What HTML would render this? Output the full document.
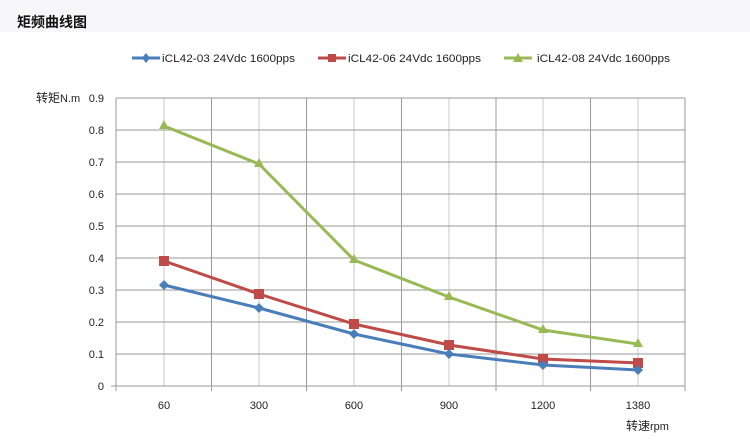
<!DOCTYPE html>
<html><head><meta charset="utf-8"><style>
body{margin:0;background:#fff;}
svg{display:block;font-family:"Liberation Sans","Noto Sans CJK SC",sans-serif;}
</style></head><body>
<svg width="750" height="445" viewBox="0 0 750 445">
<rect x="0" y="0" width="750" height="32" fill="#f7f7f9"/>
<text x="17" y="27" font-size="14" font-weight="bold" fill="#111">矩频曲线图</text>
<!-- legend -->
<g font-size="11" fill="#222">
<line x1="132" y1="58" x2="160" y2="58" stroke="#4a7ebb" stroke-width="3"/><path d="M146 53 L150 58 L146 63 L142 58Z" fill="#4a7ebb"/>
<text x="162" y="62" textLength="133" lengthAdjust="spacingAndGlyphs">iCL42-03 24Vdc 1600pps</text>
<line x1="318" y1="58" x2="346" y2="58" stroke="#be4b48" stroke-width="3"/><rect x="328" y="54" width="8" height="8" fill="#be4b48"/>
<text x="348" y="62" textLength="133" lengthAdjust="spacingAndGlyphs">iCL42-06 24Vdc 1600pps</text>
<line x1="504" y1="58" x2="532" y2="58" stroke="#98b954" stroke-width="3"/><path d="M518 53 L523 62 L513 62Z" fill="#98b954"/>
<text x="537" y="62" textLength="133" lengthAdjust="spacingAndGlyphs">iCL42-08 24Vdc 1600pps</text>
</g>
<!-- grid -->
<g stroke="#c8c8c8" stroke-width="1">
<line x1="164" y1="98" x2="164" y2="386"/><line x1="259" y1="98" x2="259" y2="386"/><line x1="354" y1="98" x2="354" y2="386"/><line x1="449" y1="98" x2="449" y2="386"/><line x1="543" y1="98" x2="543" y2="386"/><line x1="638" y1="98" x2="638" y2="386"/>
</g>
<g stroke="#9a9a9a" stroke-width="1">
<line x1="116" y1="98" x2="685" y2="98"/><line x1="116" y1="130" x2="685" y2="130"/><line x1="116" y1="162" x2="685" y2="162"/><line x1="116" y1="194" x2="685" y2="194"/><line x1="116" y1="226" x2="685" y2="226"/><line x1="116" y1="258" x2="685" y2="258"/><line x1="116" y1="290" x2="685" y2="290"/><line x1="116" y1="322" x2="685" y2="322"/><line x1="116" y1="354" x2="685" y2="354"/>
<line x1="211.5" y1="98" x2="211.5" y2="391"/><line x1="306.5" y1="98" x2="306.5" y2="391"/><line x1="401.5" y1="98" x2="401.5" y2="391"/><line x1="496" y1="98" x2="496" y2="391"/><line x1="590.5" y1="98" x2="590.5" y2="391"/><line x1="685" y1="98" x2="685" y2="391"/>
<line x1="116" y1="98" x2="116" y2="391"/><line x1="111" y1="386" x2="685" y2="386"/>
</g>
<g font-size="11" fill="#222" text-anchor="end">
<text x="104" y="102">0.9</text><text x="104" y="134">0.8</text><text x="104" y="166">0.7</text><text x="104" y="198">0.6</text><text x="104" y="230">0.5</text><text x="104" y="262">0.4</text><text x="104" y="294">0.3</text><text x="104" y="326">0.2</text><text x="104" y="358">0.1</text><text x="104" y="390">0</text>
</g>
<text x="36" y="102" font-size="12" fill="#222">转矩<tspan font-size="11">N.m</tspan></text>
<g font-size="11" fill="#222" text-anchor="middle">
<text x="164" y="409">60</text><text x="259" y="409">300</text><text x="354" y="409">600</text><text x="449" y="409">900</text><text x="543" y="409">1200</text><text x="638" y="409">1380</text>
</g>
<text x="626" y="430" font-size="12" fill="#222">转速<tspan font-size="11">rpm</tspan></text>
<!-- series -->
<polyline points="164,126 259,164 354,260 449,297 543,330 638,344" fill="none" stroke="#98b954" stroke-width="3"/>
<g fill="#98b954"><path d="M164,120 l5,9 h-10z"/><path d="M259,158 l5,9 h-10z"/><path d="M354,254 l5,9 h-10z"/><path d="M449,291 l5,9 h-10z"/><path d="M543,324 l5,9 h-10z"/><path d="M638,338 l5,9 h-10z"/></g>
<polyline points="164,261 259,294 354,324 449,345 543,359 638,363" fill="none" stroke="#be4b48" stroke-width="3"/>
<g fill="#be4b48"><rect x="159" y="256" width="10" height="10"/><rect x="254" y="289" width="10" height="10"/><rect x="349" y="319" width="10" height="10"/><rect x="444" y="340" width="10" height="10"/><rect x="538" y="354" width="10" height="10"/><rect x="633" y="358" width="10" height="10"/></g>
<polyline points="164,285 259,308 354,334 449,354 543,365 638,370" fill="none" stroke="#4a7ebb" stroke-width="3"/>
<g fill="#4a7ebb"><path d="M164,280 l5,5 -5,5 -5,-5z"/><path d="M259,303 l5,5 -5,5 -5,-5z"/><path d="M354,329 l5,5 -5,5 -5,-5z"/><path d="M449,349 l5,5 -5,5 -5,-5z"/><path d="M543,360 l5,5 -5,5 -5,-5z"/><path d="M638,365 l5,5 -5,5 -5,-5z"/></g>
</svg>
</body></html>
